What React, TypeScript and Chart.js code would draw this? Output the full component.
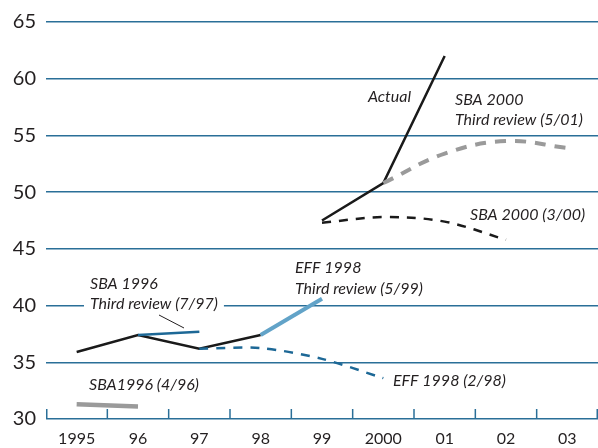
import React, { useEffect, useRef } from 'react';
import { Chart, registerables } from 'chart.js';

Chart.register(...registerables);

const categories = ['1995', '96', '97', '98', '99', '2000', '01', '02', '03'];
const yTickValues = [30, 35, 40, 45, 50, 55, 60, 65];

const actualEarly = [35.9, 37.4, 36.2, 37.4, null, null, null, null, null];
const actualLate = [null, null, null, null, 47.5, 50.8, 62.0, null, null];
const sba1996Apr96 = [31.3, 31.1, null, null, null, null, null, null, null];
const sba1996Jul97 = [null, 37.4, 37.7, null, null, null, null, null, null];
const eff1998Feb98 = [null, null, 36.2, 36.25, 35.3, 33.6, null, null, null];
const eff1998May99 = [null, null, null, 37.4, 40.6, null, null, null, null];
const sba2000Mar00 = [null, null, null, null, 47.3, 47.8, 47.4, 45.8, null];
const sba2000May01 = [null, null, null, null, null, 50.8, 53.4, 54.5, 53.9];

const TEXT = '#231f20';
const GRID = '#2a6f98';
const DARK_BLUE = '#1d6896';
const LIGHT_BLUE = '#62a3c8';
const GREY = '#9a9a9a';
const ANN_FONT = 'italic 16px Lato';

type Ann = { text: string; x: number; y: number; align: CanvasTextAlign; mask?: boolean };

const annotations: Ann[] = [
  { text: 'Actual', x: 411, y: 97, align: 'right' },
  { text: 'SBA 2000', x: 455, y: 100, align: 'left' },
  { text: 'Third review (5/01)', x: 455, y: 120, align: 'left' },
  { text: 'SBA 2000 (3/00)', x: 470, y: 215, align: 'left' },
  { text: 'EFF 1998', x: 295, y: 268, align: 'left' },
  { text: 'Third review (5/99)', x: 295, y: 289, align: 'left' },
  { text: 'EFF 1998 (2/98)', x: 393, y: 381, align: 'left' },
  { text: 'SBA 1996', x: 90, y: 284, align: 'left' },
  { text: 'Third review (7/97)', x: 90, y: 304, align: 'left', mask: true },
  { text: 'SBA1996 (4/96)', x: 89, y: 385, align: 'left' },
];

const overlayPlugin = {
  id: 'overlay',
  beforeDatasetsDraw(chart: any) {
    const ctx = chart.ctx;
    ctx.save();
    ctx.font = ANN_FONT;
    annotations.forEach((a) => {
      if (!a.mask) return;
      const w = ctx.measureText(a.text).width;
      ctx.fillStyle = '#ffffff';
      ctx.fillRect(a.x - 6, a.y - 8, w + 12, 16);
    });
    // x-axis tick marks pointing up
    const { left, right, bottom } = chart.chartArea;
    const n = categories.length;
    ctx.strokeStyle = GRID;
    ctx.lineWidth = 1.5;
    for (let i = 0; i <= n; i++) {
      let x = left + ((right - left) * i) / n;
      if (i === 0) x += 0.75;
      if (i === n) x -= 0.75;
      ctx.beginPath();
      ctx.moveTo(x, bottom);
      ctx.lineTo(x, bottom - 10);
      ctx.stroke();
    }
    ctx.restore();
  },
  afterDatasetsDraw(chart: any) {
    const ctx = chart.ctx;
    ctx.save();
    ctx.font = ANN_FONT;
    ctx.fillStyle = TEXT;
    ctx.textBaseline = 'middle';
    annotations.forEach((a) => {
      ctx.textAlign = a.align;
      ctx.fillText(a.text, a.x, a.y);
    });
    // leader line
    ctx.strokeStyle = TEXT;
    ctx.lineWidth = 1;
    ctx.beginPath();
    ctx.moveTo(159, 315);
    ctx.lineTo(184, 328);
    ctx.stroke();
    ctx.restore();
  },
};

export default function App() {
  const ref = useRef<HTMLCanvasElement | null>(null);

  useEffect(() => {
    document.body.style.margin = '0';
    const canvas = ref.current;
    if (!canvas) return;
    const chart = new Chart(canvas, {
      type: 'line',
      data: {
        labels: categories,
        datasets: [
          { label: 'SBA1996 (4/96)', data: sba1996Apr96, borderColor: GREY, borderWidth: 4.5 },
          { label: 'EFF 1998 (2/98)', data: eff1998Feb98, borderColor: DARK_BLUE, borderWidth: 2.5, borderDash: [9, 8], tension: 0.3 },
          { label: 'SBA 2000 (3/00)', data: sba2000Mar00, borderColor: '#1a1a1a', borderWidth: 2.5, borderDash: [9, 8], tension: 0.35 },
          { label: 'SBA 2000 Third review (5/01)', data: sba2000May01, borderColor: GREY, borderWidth: 4, borderDash: [11, 9], tension: 0.4 },
          { label: 'SBA 1996 Third review (7/97)', data: sba1996Jul97, borderColor: DARK_BLUE, borderWidth: 2.5 },
          { label: 'EFF 1998 Third review (5/99)', data: eff1998May99, borderColor: LIGHT_BLUE, borderWidth: 4 },
          { label: 'Actual', data: actualEarly, borderColor: '#1a1a1a', borderWidth: 2.5 },
          { label: 'Actual ', data: actualLate, borderColor: '#1a1a1a', borderWidth: 2.5 },
        ] as any,
      },
      options: {
        animation: false,
        responsive: false,
        maintainAspectRatio: false,
        layout: { padding: { top: 16, right: 0, left: 0, bottom: 0 } },
        elements: { point: { radius: 0 }, line: { borderCapStyle: 'butt', borderJoinStyle: 'miter' } },
        plugins: { legend: { display: false }, tooltip: { enabled: false } },
        scales: {
          x: {
            type: 'category',
            offset: true,
            grid: { display: false, drawTicks: false },
            border: { display: false },
            ticks: { color: TEXT, font: { family: 'Lato', size: 16 }, padding: 10, maxRotation: 0, autoSkip: false },
            afterFit: (s: any) => { s.height = 29; },
          },
          y: {
            type: 'linear',
            min: 30,
            max: 65,
            afterBuildTicks: (s: any) => { s.ticks = yTickValues.map((v) => ({ value: v })); },
            grid: { color: GRID, lineWidth: 1.5, drawTicks: false },
            border: { display: false },
            ticks: { color: TEXT, font: { family: 'Lato', size: 20 }, padding: 10 },
            afterFit: (s: any) => { s.width = 46; },
          },
        },
      } as any,
      plugins: [overlayPlugin],
    });
    return () => chart.destroy();
  }, []);

  return (
    <div style={{ width: 598, height: 448 }}>
      <canvas ref={ref} width={598} height={448} style={{ display: 'block' }} />
    </div>
  );
}
